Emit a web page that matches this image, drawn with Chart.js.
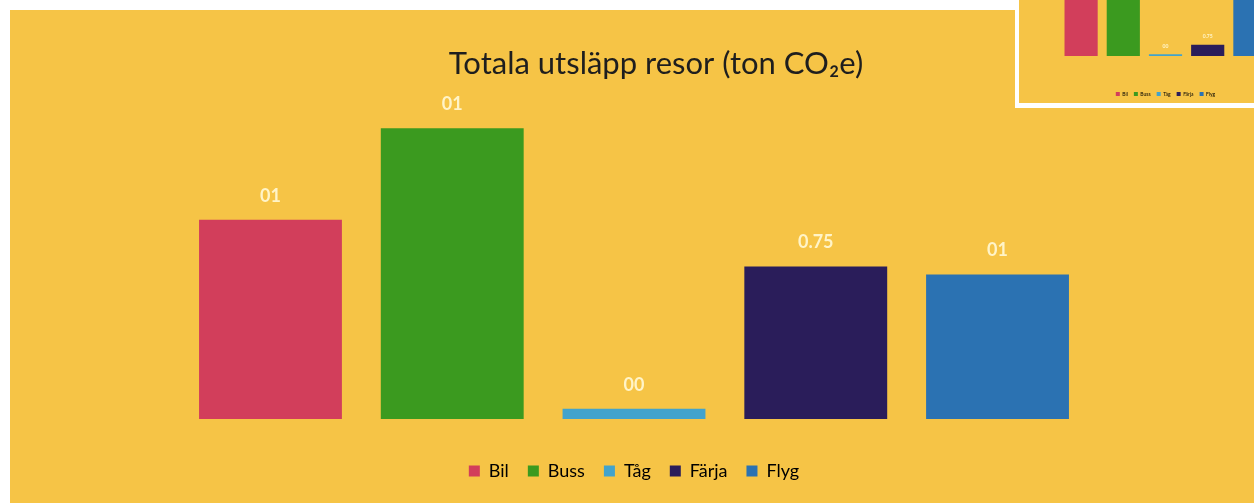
<!DOCTYPE html>
<html lang="sv">
  <head>
    <meta charset="UTF-8" />
    <title>Totala utsläpp resor</title>
    <style>
      body {
        margin: 0;
        padding: 0;
        width: 1254px;
        height: 503px;
        overflow: hidden;
        background-color: #fff;
        position: relative;
        font-family: Lato, "Noto Sans", sans-serif;
      }

      .slide {
        position: absolute;
        left: 10px;
        top: 10px;
        width: 1244px;
        height: 493px;
        background-color: #f6c446;
      }

      .inset {
        position: absolute;
        left: 1015px;
        top: 0;
        width: 239px;
        height: 108px;
        box-sizing: border-box;
        border-left: 4px solid #fff;
        border-bottom: 5px solid #fff;
        background-color: #f6c446;
        overflow: hidden;
      }

      .inset-chart {
        position: absolute;
        left: 0;
        top: 0;
        width: 300px;
        height: 110px;
      }
    </style>
  </head>
  <body>
    <div class="slide">
      <canvas id="emissionChart"></canvas>
    </div>
    <div class="inset">
      <div class="inset-chart">
        <canvas id="insetChart"></canvas>
      </div>
    </div>

    <script src="https://cdn.jsdelivr.net/npm/chart.js"></script>
    <script>
      const categories = ["Bil", "Buss", "Tåg", "Färja", "Flyg"];
      const emissions = [0.98, 1.43, 0.05, 0.75, 0.71];
      const emissionLabels = ["01", "01", "00", "0.75", "01"];

      // the small chart in the corner, its top is cut off
      const insetEmissions = [1.6, 1.8, 0.04, 0.24, 1.5];
      const insetLabels = ["", "", "00", "0.75", ""];

      const barColors = ["#d23e5b", "#3b9a1f", "#42a3cc", "#2a1d5a", "#2b72b2"];

      const valueLabels = {
        id: "valueLabels",
        afterDatasetsDraw(chart, args, opts) {
          const ctx = chart.ctx;
          const meta = chart.getDatasetMeta(0);
          const values = chart.data.datasets[0].data;
          ctx.save();
          ctx.font = opts.font;
          ctx.fillStyle = opts.color;
          ctx.textAlign = "center";
          ctx.textBaseline = "middle";
          meta.data.forEach((bar, i) => {
            if (values[i] > chart.scales.y.max) return;
            ctx.fillText(opts.texts[i], bar.x, bar.y - opts.offset);
          });
          ctx.restore();
        },
      };

      // the title sits a bit right of the plot centre in the original
      const titleShift = {
        id: "titleShift",
        afterLayout(chart, args, opts) {
          if (chart.titleBlock) {
            chart.titleBlock.left += opts.shift;
            chart.titleBlock.right += opts.shift;
          }
        },
      };

      function legendItems(chart) {
        return chart.data.labels.map((label, i) => ({
          text: label,
          fillStyle: barColors[i],
          strokeStyle: barColors[i],
          lineWidth: 0,
          hidden: false,
          index: i,
        }));
      }

      document.addEventListener("DOMContentLoaded", function () {
        Chart.defaults.font.family = 'Lato, "Noto Sans", sans-serif';

        new Chart(document.getElementById("emissionChart"), {
          type: "bar",
          data: {
            labels: categories,
            datasets: [
              {
                data: emissions,
                backgroundColor: barColors,
                categoryPercentage: 1,
                barPercentage: 0.786,
              },
            ],
          },
          plugins: [valueLabels, titleShift],
          options: {
            responsive: true,
            maintainAspectRatio: false,
            animation: false,
            layout: {
              padding: { left: 169.6, right: 165.6, top: 0, bottom: 13 },
            },
            scales: {
              x: {
                ticks: { display: false },
                grid: { display: false },
                border: { display: false },
                afterFit: (axis) => {
                  axis.height = 24;
                },
              },
              y: {
                display: false,
                min: 0,
                max: 1.6,
              },
            },
            plugins: {
              title: {
                display: true,
                text: "Totala utsläpp resor (ton CO₂e)",
                color: "#1e1e1e",
                font: { size: 31, weight: "normal" },
                padding: { top: 35.4, bottom: 11 },
              },
              titleShift: { shift: 22 },
              legend: {
                position: "bottom",
                labels: {
                  generateLabels: legendItems,
                  color: "#655730",
                  boxWidth: 11,
                  boxHeight: 11,
                  padding: 19,
                  font: { size: 18 },
                },
              },
              tooltip: { enabled: false },
              valueLabels: {
                texts: emissionLabels,
                color: "#fff4c8",
                font: 'bold 18px Lato, "Noto Sans", sans-serif',
                offset: 24,
              },
            },
          },
        });

        new Chart(document.getElementById("insetChart"), {
          type: "bar",
          data: {
            labels: categories,
            datasets: [
              {
                data: insetEmissions,
                backgroundColor: barColors,
                categoryPercentage: 1,
                barPercentage: 0.786,
              },
            ],
          },
          plugins: [valueLabels],
          options: {
            responsive: true,
            maintainAspectRatio: false,
            animation: false,
            layout: {
              padding: { left: 41, right: 48, top: 0, bottom: 3.5 },
            },
            scales: {
              x: {
                ticks: { display: false },
                grid: { display: false },
                border: { display: false },
                afterFit: (axis) => {
                  axis.height = 29.5;
                },
              },
              y: {
                display: false,
                min: 0,
                max: 1.2,
              },
            },
            plugins: {
              legend: {
                position: "bottom",
                labels: {
                  generateLabels: legendItems,
                  color: "#8a6a2a",
                  boxWidth: 4,
                  boxHeight: 4,
                  padding: 6,
                  font: { size: 5 },
                },
              },
              tooltip: { enabled: false },
              valueLabels: {
                texts: insetLabels,
                color: "#fff4c8",
                font: 'bold 5px Lato, "Noto Sans", sans-serif',
                offset: 8,
              },
            },
          },
        });
      });
    </script>
  </body>
</html>
